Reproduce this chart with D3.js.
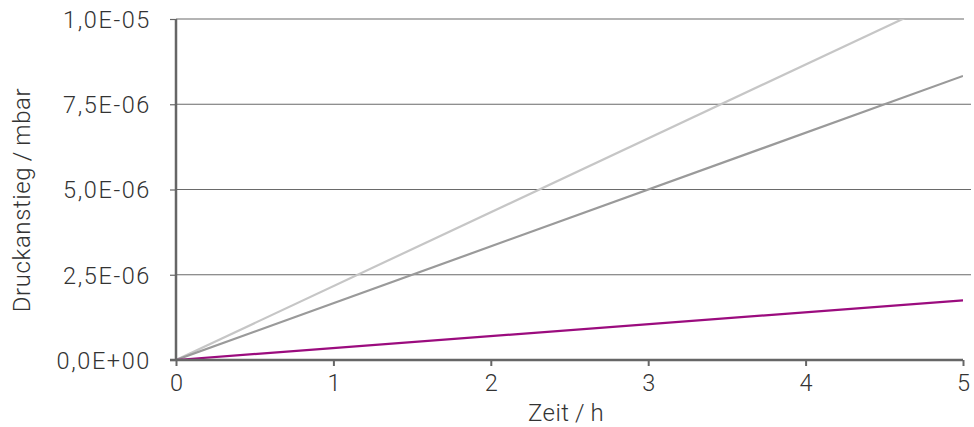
<!DOCTYPE html>
<html><head><meta charset="utf-8">
<script src="https://cdn.jsdelivr.net/npm/d3@7"></script>
<style>
html,body{margin:0;padding:0;background:#fff;}
svg text{font-family:Roboto,"Liberation Sans",sans-serif;font-weight:300;fill:#333;}
</style></head>
<body><svg id="c" width="974" height="427"></svg>
<script>
const timeValues = [0, 5];
const seriesNames = ["hell", "mittel", "lila"];
const seriesHell = [0, 1.083e-5];
const seriesMittel = [0, 8.33e-6];
const seriesLila = [0, 1.75e-6];
const seriesColors = ["#c6c6c6", "#9a9a9a", "#9b0c7e"];
const xTicks = [0, 1, 2, 3, 4, 5];
const yTicks = [0, 2.5e-6, 5e-6, 7.5e-6, 1e-5];
const yTickLabels = ["0,0E+00", "2,5E-06", "5,0E-06", "7,5E-06", "1,0E-05"];
const xLabel = "Zeit\u2009/\u2009h";
const yLabel = "Druckanstieg\u2009/\u2009mbar";

const svg = d3.select("#c");
const m = {l:176, r:11, t:19, b:67};
const W = 974, H = 427;
const x = d3.scaleLinear().domain([0,5]).range([m.l, W - m.r]);
const y = d3.scaleLinear().domain([0,1e-5]).range([H - m.b, m.t]);

const yAxis = d3.axisLeft(y).tickValues(yTicks).tickSize(6)
  .tickFormat((d,i) => yTickLabels[i]);
const gy = svg.append("g").attr("transform", `translate(${m.l},0)`).call(yAxis);
gy.select(".domain").remove();
gy.selectAll(".tick line").attr("stroke", "#666").attr("stroke-width", 1.2);
gy.selectAll(".tick text").attr("x", -25).attr("dy", "0.36em")
  .style("font-size", "23.5px").style("letter-spacing", "1.6px");
svg.append("g").selectAll("line").data(yTicks.filter(d => d > 0)).join("line")
  .attr("x1", m.l).attr("x2", (d) => d === 1e-5 ? x(5) + 1 : x(5) + 8)
  .attr("y1", d => y(d)).attr("y2", d => y(d))
  .attr("stroke", "#6a6a6a").attr("stroke-width", 1.2);

svg.append("clipPath").attr("id", "clip").append("rect")
  .attr("x", m.l).attr("y", m.t).attr("width", x(5) - m.l).attr("height", y(0) - m.t);
const allSeries = [seriesHell, seriesMittel, seriesLila];
const line = d3.line().x((d,i) => x(timeValues[i])).y(d => y(d));
svg.append("g").attr("clip-path", "url(#clip)").selectAll("path").data(allSeries).join("path")
  .attr("d", d => line(d)).attr("fill", "none")
  .attr("stroke", (d,i) => seriesColors[i]).attr("stroke-width", 2.2);

const xAxis = d3.axisBottom(x).tickValues(xTicks).tickSize(6).tickSizeOuter(0)
  .tickFormat(d3.format("d"));
const gx = svg.append("g").attr("transform", `translate(0,${y(0)})`).call(xAxis);
gx.select(".domain").attr("stroke", "#666").attr("stroke-width", 2.5)
  .attr("d", `M${m.l - 6},0H${x(5)}`);
gx.selectAll(".tick line").attr("stroke", "#666").attr("stroke-width", 2)
  .attr("y1", 0).attr("y2", 6);
gx.selectAll(".tick text").attr("y", 14).attr("dy", "0.71em").style("font-size", "23.5px");

svg.append("line").attr("x1", m.l).attr("x2", m.l).attr("y1", m.t).attr("y2", y(0))
  .attr("stroke", "#666").attr("stroke-width", 2.5);

svg.append("text").attr("x", 566).attr("y", 421)
  .attr("text-anchor", "middle").style("font-size", "24px").style("letter-spacing", "0.5px").text(xLabel);
svg.append("text").attr("transform", `translate(30,${200}) rotate(-90)`)
  .attr("text-anchor", "middle").style("font-size", "24px").style("letter-spacing", "0.6px").text(yLabel);
</script></body></html>
